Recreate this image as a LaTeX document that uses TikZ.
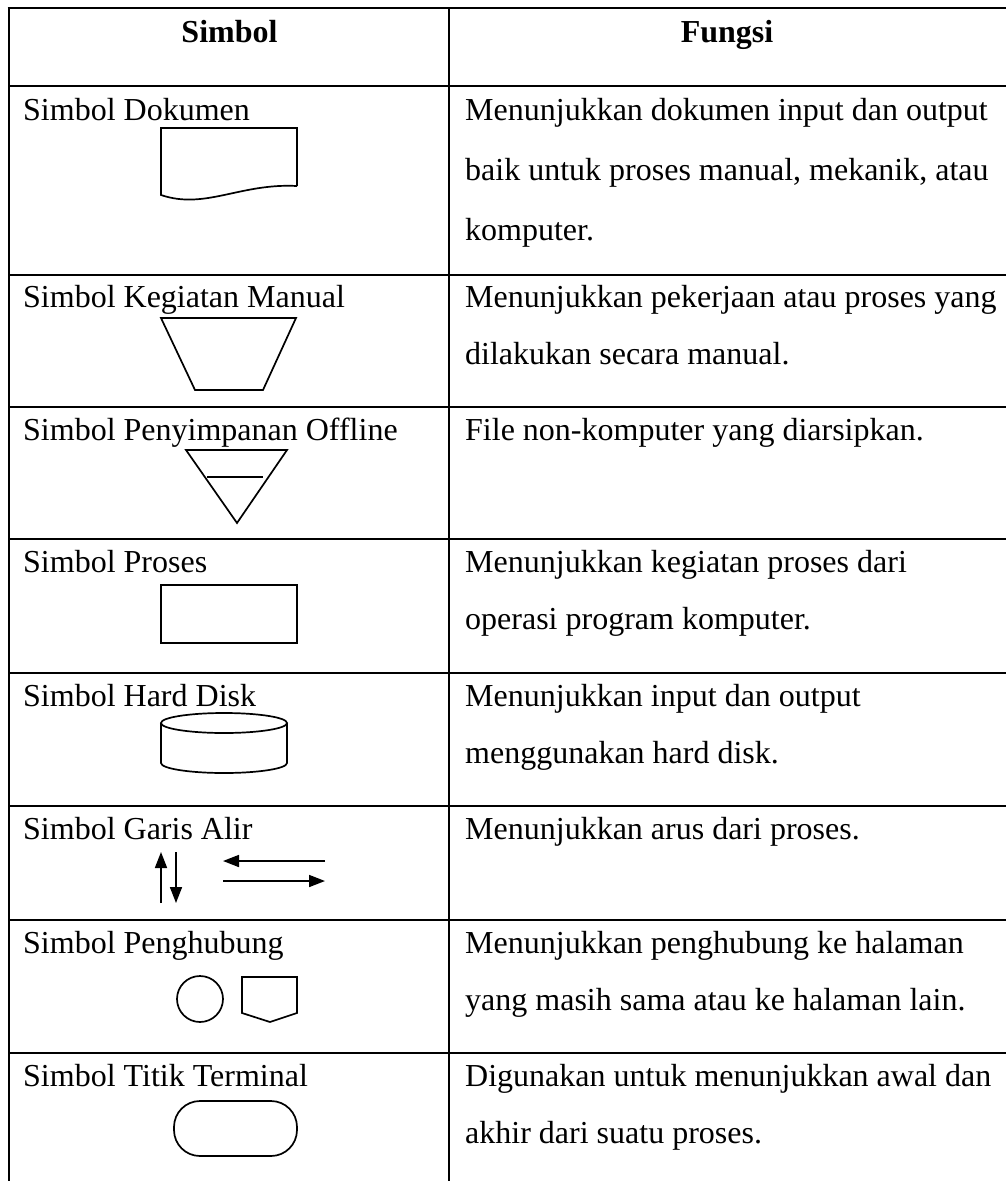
\documentclass[tikz,border=0pt]{standalone}
\usepackage{fontspec}
\setmainfont{Liberation Serif}
\usetikzlibrary{arrows.meta}
\begin{document}
\begin{tikzpicture}[x=1pt,y=-1pt,
  gridline/.style={line width=2.6pt},
  sym/.style={line width=1.7pt, line join=miter},
  txt/.style={anchor=base west, inner sep=0pt, font=\fontsize{32}{38}\selectfont},
  hdr/.style={anchor=base, inner sep=0pt, font=\fontsize{32}{38}\selectfont\bfseries},
  flow/.style={sym, -{Triangle[length=16pt,width=12pt]}}]
\useasboundingbox (0,0) rectangle (1006,1181);
\fill[white] (0,0) rectangle (1006,1181);

% table grid
\draw[gridline] (7.7,8) -- (1006,8);
\foreach \yy in {86,275,407,539,673,806,920,1053}
  \draw[gridline] (9,\yy) -- (1006,\yy);
\draw[gridline] (9,8) -- (9,1181);
\draw[gridline] (449,8) -- (449,1181);

% header
\node[hdr] (h1) at (229.5,42) {Simbol};
\node[hdr] (h2) at (727,42) {Fungsi};

% left column labels
\node[txt] (l1) at (23,120) {Simbol Dokumen};
\node[txt] (l2) at (23,307) {Simbol Kegiatan Manual};
\node[txt] (l3) at (23,440) {Simbol Penyimpanan Offline};
\node[txt] (l4) at (23,572) {Simbol Proses};
\node[txt] (l5) at (23,706) {Simbol Hard Disk};
\node[txt] (l6) at (23,839) {Simbol Garis Alir};
\node[txt] (l7) at (23,953) {Simbol Penghubung};
\node[txt] (l8) at (23,1086) {Simbol Titik Terminal};

% right column texts
\node[txt] (r1a) at (465,120) {Menunjukkan dokumen input dan output};
\node[txt] (r1b) at (465,180) {baik untuk proses manual, mekanik, atau};
\node[txt] (r1c) at (465,240) {komputer.};
\node[txt] (r2a) at (465,307) {Menunjukkan pekerjaan atau proses yang};
\node[txt] (r2b) at (465,364) {dilakukan secara manual.};
\node[txt] (r3a) at (465,440) {File non-komputer yang diarsipkan.};
\node[txt] (r4a) at (465,572) {Menunjukkan kegiatan proses dari};
\node[txt] (r4b) at (465,629) {operasi program komputer.};
\node[txt] (r5a) at (465,706) {Menunjukkan input dan output};
\node[txt] (r5b) at (465,763) {menggunakan hard disk.};
\node[txt] (r6a) at (465,839) {Menunjukkan arus dari proses.};
\node[txt] (r7a) at (465,953) {Menunjukkan penghubung ke halaman};
\node[txt] (r7b) at (465,1010) {yang masih sama atau ke halaman lain.};
\node[txt] (r8a) at (465,1086) {Digunakan untuk menunjukkan awal dan};
\node[txt] (r8b) at (465,1143) {akhir dari suatu proses.};

% document symbol
\draw[sym] (297,186) -- (297,128) -- (161,128) -- (161,195)
  .. controls (205,210) and (240,183) .. (297,186);

% manual operation
\draw[sym] (161,318) -- (296,318) -- (263,390) -- (195,390) -- cycle;

% offline storage
\draw[sym] (186,450) -- (287,450) -- (237,523) -- cycle;
\draw[sym] (207,477) -- (263,477);

% process
\draw[sym] (161,585) rectangle (297,643);

% hard disk
\draw[sym] (224,723) ellipse [x radius=63pt, y radius=10pt];
\draw[sym] (161,723) -- (161,763) arc[start angle=180, end angle=360, x radius=63pt, y radius=10pt] -- (287,723);

% flow lines
\coordinate (ua) at (161,903); \coordinate (ub) at (161,852);
\coordinate (da) at (176,852); \coordinate (db) at (176,903);
\coordinate (la) at (325,861); \coordinate (lb) at (223,861);
\coordinate (ra) at (223,881); \coordinate (rb) at (325,881);
\draw[flow] (ua) -- (ub);
\draw[flow] (da) -- (db);
\draw[flow] (la) -- (lb);
\draw[flow] (ra) -- (rb);

% connectors
\node[sym, draw, circle, minimum size=46pt, inner sep=0pt] (conn) at (200,999) {};
\draw[sym] (242,977) -- (297,977) -- (297,1013) -- (270,1022) -- (242,1013) -- cycle;

% terminal
\draw[sym, rounded corners=26pt] (174,1101) rectangle (297,1156);
\end{tikzpicture}
\end{document}
